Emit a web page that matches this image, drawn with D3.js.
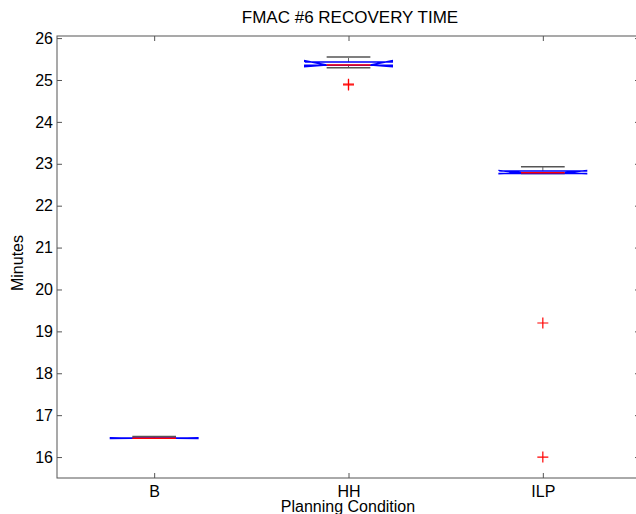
<!DOCTYPE html>
<meta charset="utf-8">
<style>
    body { margin: 0; background: #fff; }
    text { font-family: "Liberation Sans", Arial, Helvetica, sans-serif; fill: #000; }
    .axis path { display: none; }
    .axis line { stroke: #555; }
</style>
<svg width="636" height="514"></svg>
<script src="https://cdn.jsdelivr.net/npm/d3@7"></script>
<script>

    // boxplot stats (minutes)
    var categories = ["B", "HH", "ILP"];
    var q1 = [16.45, 25.35, 22.77];
    var medians = [16.45, 25.36, 22.785];
    var q3 = [16.455, 25.43, 22.83];
    var whiskerLo = [16.45, 25.29, 22.77];
    var whiskerHi = [16.49, 25.55, 22.93];
    var notchLo = [16.445, 25.32, 22.765];
    var notchHi = [16.46, 25.46, 22.84];
    var outliers = [[], [24.88, 24.9], [19.2, 16.0]];
    var yTicks = [16, 17, 18, 19, 20, 21, 22, 23, 24, 25, 26];

    var svg = d3.select("svg");
    var plotLeft = 57, plotRight = 640, plotTop = 36, plotBottom = 478;

    var x = d3.scaleLinear().domain([0.5, 3.5]).range([plotLeft, plotRight]);
    var y = d3.scaleLinear().domain([15.5, 26.05]).range([plotBottom, plotTop]);

    var boxW = 0.45; // in category units
    var halfW = (x(1 + boxW / 2) - x(1));
    var qq = halfW / 2;

    //axes, ticks pointing inward like matlab
    svg.append("g").attr("class", "axis")
        .attr("transform", "translate(" + plotLeft + ",0)")
        .call(d3.axisLeft(y).tickValues(yTicks).tickSizeInner(-5).tickSizeOuter(0))
        .selectAll("text").style("font-size", "16px").attr("x", -4);

    svg.append("g").attr("class", "axis")
        .attr("transform", "translate(" + plotRight + ",0)")
        .call(d3.axisRight(y).tickValues(yTicks).tickSizeInner(-5).tickSizeOuter(0).tickFormat(""));

    svg.append("g").attr("class", "axis")
        .attr("transform", "translate(0," + plotBottom + ")")
        .call(d3.axisBottom(x).tickValues([1, 2, 3]).tickSizeInner(-5).tickSizeOuter(0)
            .tickFormat(function (d) { return categories[d - 1]; }))
        .selectAll("text").style("font-size", "16px").attr("y", 8).attr("dy", "0.71em");

    svg.append("g").attr("class", "axis")
        .attr("transform", "translate(0," + plotTop + ")")
        .call(d3.axisTop(x).tickValues([1, 2, 3]).tickSizeInner(-5).tickSizeOuter(0).tickFormat(""));

    svg.append("rect")
        .attr("x", plotLeft).attr("y", plotTop)
        .attr("width", plotRight - plotLeft).attr("height", plotBottom - plotTop)
        .attr("fill", "none").attr("stroke", "#555");

    //labels
    svg.append("text").attr("x", 350).attr("y", 23)
        .attr("text-anchor", "middle").style("font-size", "17px")
        .text("FMAC #6 RECOVERY TIME");

    svg.append("text").attr("x", 348).attr("y", 512)
        .attr("text-anchor", "middle").style("font-size", "16px")
        .text("Planning Condition");

    svg.append("text")
        .attr("transform", "translate(23,263) rotate(-90)")
        .attr("text-anchor", "middle").style("font-size", "16px")
        .text("Minutes");

    //boxes
    var idx = d3.range(categories.length);
    var boxes = svg.append("g").selectAll("g").data(idx).enter().append("g");

    // whiskers
    boxes.append("line")
        .attr("x1", function (i) { return x(i + 1); }).attr("x2", function (i) { return x(i + 1); })
        .attr("y1", function (i) { return y(q3[i]); }).attr("y2", function (i) { return y(whiskerHi[i]); })
        .attr("stroke", "#666").attr("stroke-dasharray", "4,2");
    boxes.append("line")
        .attr("x1", function (i) { return x(i + 1); }).attr("x2", function (i) { return x(i + 1); })
        .attr("y1", function (i) { return y(q1[i]); }).attr("y2", function (i) { return y(whiskerLo[i]); })
        .attr("stroke", "#666").attr("stroke-dasharray", "4,2");
    boxes.append("line")
        .attr("x1", function (i) { return x(i + 1) - qq; }).attr("x2", function (i) { return x(i + 1) + qq; })
        .attr("y1", function (i) { return y(whiskerHi[i]); }).attr("y2", function (i) { return y(whiskerHi[i]); })
        .attr("stroke", "#555").attr("stroke-width", 1.5);
    boxes.append("line")
        .attr("x1", function (i) { return x(i + 1) - qq; }).attr("x2", function (i) { return x(i + 1) + qq; })
        .attr("y1", function (i) { return y(whiskerLo[i]); }).attr("y2", function (i) { return y(whiskerLo[i]); })
        .attr("stroke", "#555").attr("stroke-width", 1.5);

    // notched box outline
    boxes.append("path")
        .attr("fill", "none").attr("stroke", "#0000ff").attr("stroke-width", 1.5)
        .attr("d", function (i) {
            var lf = x(i + 1) - halfW, rf = x(i + 1) + halfW;
            var pts = [
                [lf, y(q3[i])], [lf, y(notchHi[i])], [lf + qq, y(medians[i])], [lf, y(notchLo[i])], [lf, y(q1[i])],
                [rf, y(q1[i])], [rf, y(notchLo[i])], [rf - qq, y(medians[i])], [rf, y(notchHi[i])], [rf, y(q3[i])],
                [lf, y(q3[i])]
            ];
            return d3.line()(pts);
        });

    // median
    boxes.append("line")
        .attr("x1", function (i) { return x(i + 1) - qq; }).attr("x2", function (i) { return x(i + 1) + qq; })
        .attr("y1", function (i) { return y(medians[i]); }).attr("y2", function (i) { return y(medians[i]); })
        .attr("stroke", "#ff0000").attr("stroke-width", 1.5);

    // outliers as red plus marks
    boxes.selectAll("path.out")
        .data(function (i) { return outliers[i].map(function (v) { return {i: i, v: v}; }); })
        .enter().append("path")
        .attr("class", "out")
        .attr("fill", "none").attr("stroke", "#ff0000").attr("stroke-width", 1.2)
        .attr("d", function (d) {
            var cx = x(d.i + 1), cy = y(d.v);
            return "M" + (cx - 5.5) + "," + cy + "H" + (cx + 5.5) + "M" + cx + "," + (cy - 5.5) + "V" + (cy + 5.5);
        });

</script>
